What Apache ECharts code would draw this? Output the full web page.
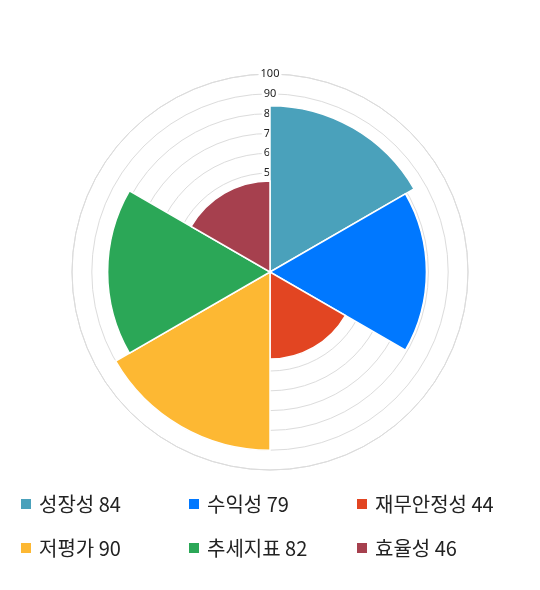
<!DOCTYPE html>
<html>
<head>
<meta charset="utf-8">
<script src="https://cdn.jsdelivr.net/npm/echarts@6/dist/echarts.min.js"></script>
<style>
html,body{margin:0;padding:0;background:#fff;}
#chart{width:540px;height:590px;}
</style>
</head>
<body>
<div id="chart"></div>
<script>
const categories = ['성장성', '수익성', '재무안정성', '저평가', '추세지표', '효율성'];
const values = [84, 79, 44, 90, 82, 46];
const colors = ['#4AA1BB', '#0078FF', '#E24522', '#FDB833', '#2BA757', '#A6404E'];
const radiusTicks = [0, 10, 20, 30, 40, 50, 60, 70, 80, 90, 100];

const legendPos = [
  [14, 488], [182, 488], [350, 488],
  [14, 532], [182, 532], [350, 532]
];

const series = categories.map((name, i) => ({
  name: name,
  type: 'bar',
  coordinateSystem: 'polar',
  stack: 'all',
  barCategoryGap: '0%',
  data: categories.map((c, j) => (j === i ? values[i] : '-')),
  itemStyle: { color: colors[i], borderColor: '#fff', borderWidth: 1.5 },
  emphasis: { disabled: true },
  silent: true
}));

const legends = categories.map((name, i) => ({
  data: [name],
  left: legendPos[i][0],
  top: legendPos[i][1],
  icon: 'rect',
  itemWidth: 12,
  itemHeight: 12,
  selectedMode: false,
  formatter: (n) => n + ' ' + values[categories.indexOf(n)],
  textStyle: {
    fontSize: 20,
    lineHeight: 22,
    color: '#222',
    fontFamily: '"Noto Sans CJK KR", "Noto Sans", sans-serif',
    padding: [0, 0, 0, 2]
  }
}));

const chart = echarts.init(document.getElementById('chart'), null, { renderer: 'canvas' });
chart.setOption({
  animation: false,
  backgroundColor: '#fff',
  color: colors,
  polar: { center: [270, 272], radius: 198 },
  angleAxis: {
    type: 'category',
    data: categories,
    startAngle: 90,
    clockwise: true,
    axisLine: { show: true, lineStyle: { color: '#dcdcdc', width: 1 } },
    axisTick: { show: false },
    axisLabel: { show: false },
    splitLine: { show: false }
  },
  radiusAxis: {
    type: 'value',
    min: radiusTicks[0],
    max: radiusTicks[radiusTicks.length - 1],
    interval: 10,
    axisLine: { show: false },
    axisTick: { show: false },
    splitLine: { show: true, lineStyle: { color: '#dcdcdc', width: 1 } },
    axisLabel: {
      show: true,
      margin: 0,
      align: 'center',
      verticalAlign: 'middle',
      fontSize: 11,
      color: '#222',
      fontFamily: '"Noto Sans", sans-serif',
      backgroundColor: '#fff',
      padding: [0, 2],
      formatter: (v) => (v === 0 ? '' : String(v))
    }
  },
  legend: legends,
  series: series
});
</script>
</body>
</html>
